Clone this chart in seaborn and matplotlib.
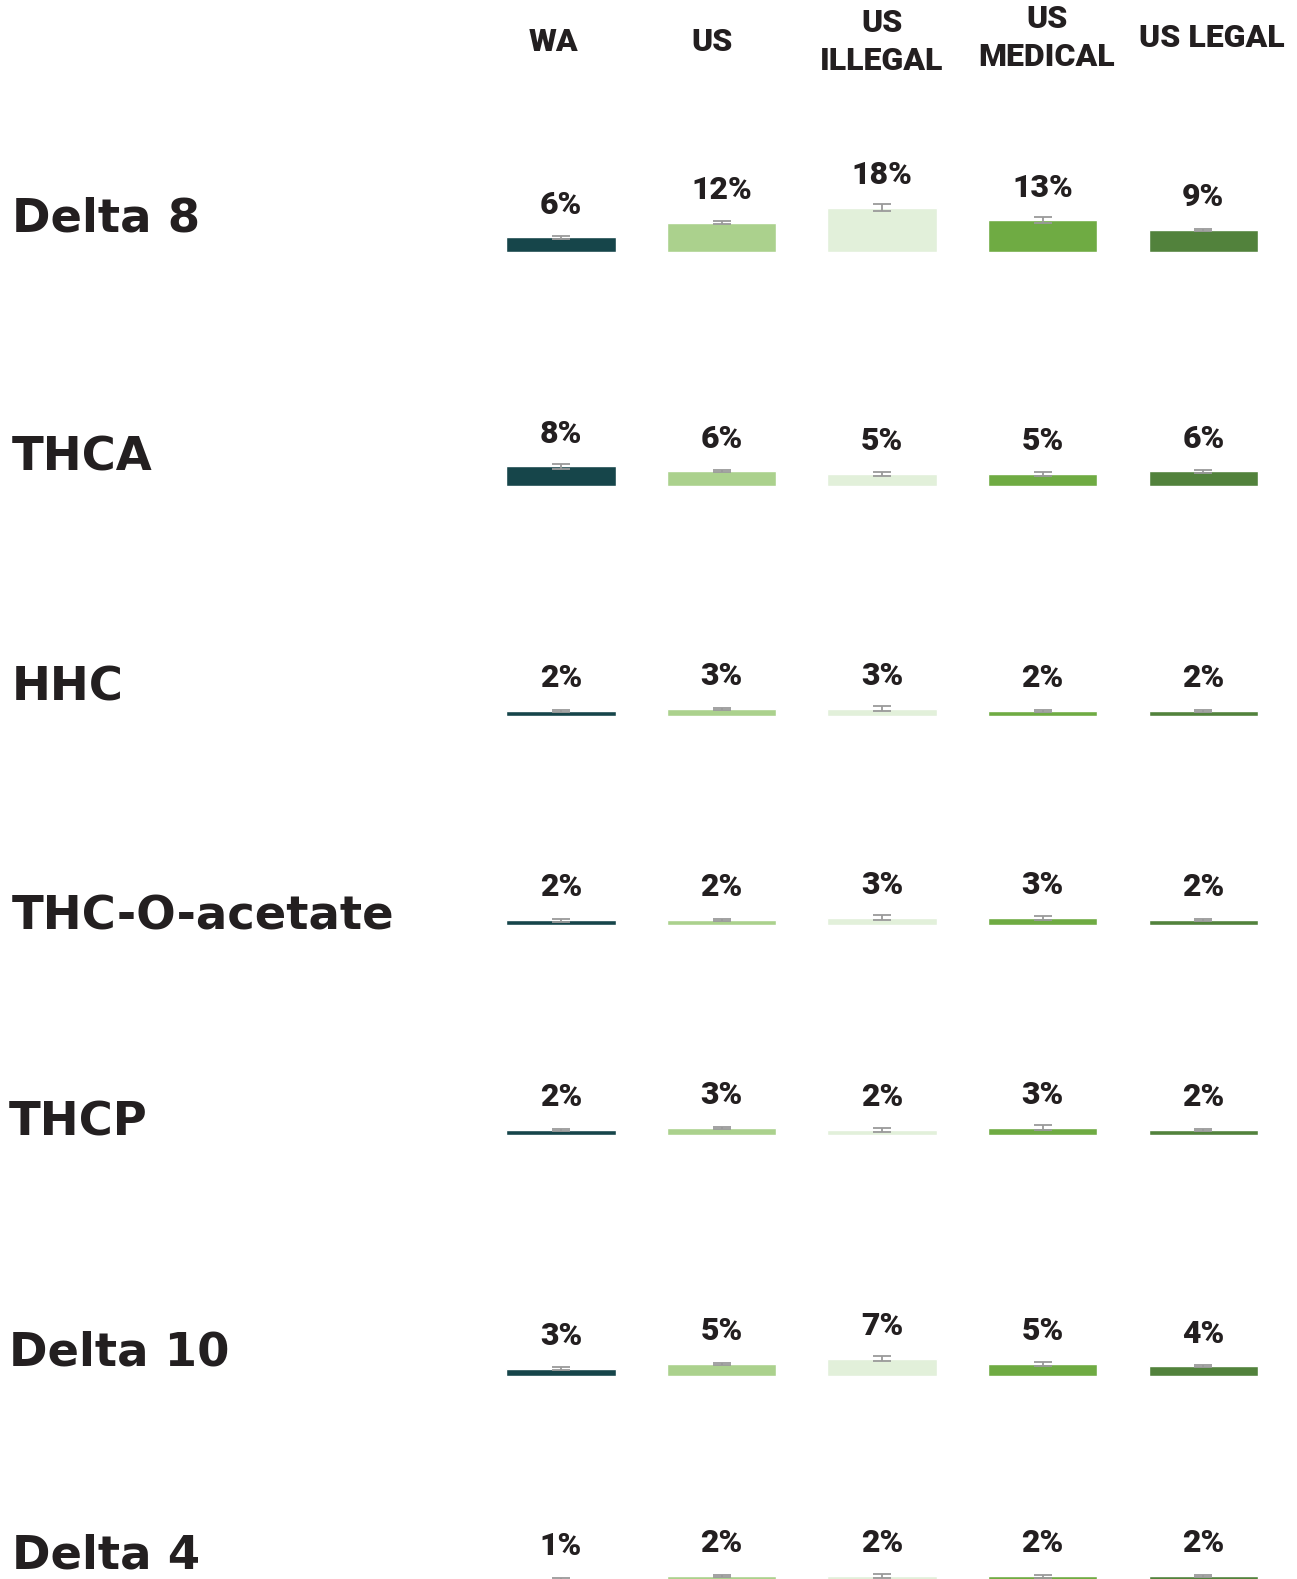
import matplotlib
matplotlib.use("Agg")
import matplotlib.pyplot as plt
from matplotlib import font_manager
import seaborn as sns
import pandas as pd

# Survey groups (columns) and products (rows)
groups = ["WA", "US", "US ILLEGAL", "US MEDICAL", "US LEGAL"]
header_labels = ["WA", "US", "US\nILLEGAL", "US\nMEDICAL", "US LEGAL"]
products = ["Delta 8", "THCA", "HHC", "THC-O-acetate", "THCP", "Delta 10", "Delta 4"]

# Share of respondents (%) per product, in group order
delta8 = [6, 12, 18, 13, 9]
thca = [8, 6, 5, 5, 6]
hhc = [2, 3, 3, 2, 2]
thc_o = [2, 2, 3, 3, 2]
thcp = [2, 3, 2, 3, 2]
delta10 = [3, 5, 7, 5, 4]
delta4 = [1, 2, 2, 2, 2]

# Margins of error (%)
delta8_err = [0.7, 0.55, 1.4, 1.15, 0.5]
thca_err = [0.9, 0.35, 0.9, 0.8, 0.5]
hhc_err = [0.5, 0.4, 0.9, 0.55, 0.5]
thc_o_err = [0.6, 0.4, 0.9, 0.8, 0.5]
thcp_err = [0.55, 0.4, 0.8, 0.95, 0.5]
delta10_err = [0.55, 0.4, 1.0, 0.9, 0.5]
delta4_err = [0.4, 0.4, 0.8, 0.6, 0.4]

values = [delta8, thca, hhc, thc_o, thcp, delta10, delta4]
errors = [delta8_err, thca_err, hhc_err, thc_o_err, thcp_err, delta10_err, delta4_err]

palette = ["#16454A", "#ABD18D", "#E2F0DA", "#6FAB43", "#52823C"]
ink = "#231F20"
err_col = "#9A9A9A"

W, H = 1297, 1579
sns.set_theme(style="white")
plt.rcParams["font.family"] = ["DejaVu Sans"]

installed = {f.name for f in font_manager.fontManager.ttflist}
small_face = "Roboto" if "Roboto" in installed else "DejaVu Sans"
small = [small_face, "DejaVu Sans"]

fig = plt.figure(figsize=(W / 100, H / 100), dpi=100)

# layout in pixels
px_per_pct = 2.45
col_left, col_width = 480.6, 803.0
panel_h = 150.0
baselines = [252, 486, 716, 925, 1135, 1376, 1581]
label_y = [219.5, 458, 688, 917, 1123, 1353, 1556]
label_x = [12, 12, 12, 12, 9, 9, 12]

for i, prod in enumerate(products):
    df = pd.DataFrame({"group": groups, "value": values[i], "err": errors[i]})
    ax = fig.add_axes([col_left / W, 1 - baselines[i] / H,
                       col_width / W, panel_h / H])
    sns.barplot(data=df, x="group", y="value", hue="group", palette=palette,
                order=groups, hue_order=groups, width=0.68, errorbar=None,
                legend=False, saturation=1, ax=ax)
    ax.errorbar(range(len(groups)), df["value"], yerr=df["err"], fmt="none",
                ecolor=err_col, elinewidth=1.3, capsize=6.5, capthick=1.3,
                zorder=3)
    for j, v in enumerate(df["value"]):
        ax.annotate(f"{v}%", (j, v), xytext=(0, 23.5),
                    textcoords="offset points", ha="center", va="center",
                    fontsize=23, fontweight="heavy", color=ink,
                    family=small, annotation_clip=False)
    ax.set_xlim(-0.5, len(groups) - 0.5)
    ax.set_ylim(0, panel_h / px_per_pct)
    ax.axis("off")
    fig.text(label_x[i] / W, 1 - label_y[i] / H, prod, ha="left",
             va="center", fontsize=33.5, fontweight="bold", color=ink)

header_x = [553, 712, 882, 1047, 1212]
header_y = [42, 42, 42, 38, 38]
for hx, hy, lab in zip(header_x, header_y, header_labels):
    fig.text(hx / W, 1 - hy / H, lab, ha="center", va="center",
             multialignment="center", fontsize=23, fontweight="heavy",
             color=ink, family=small, linespacing=1.35)

fig.savefig("out.png", dpi=100, facecolor="white")
